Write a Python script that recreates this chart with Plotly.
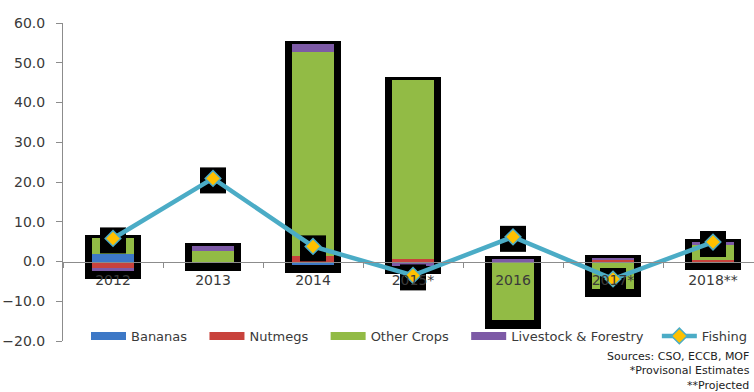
import plotly.graph_objects as go

# Annual contribution to agricultural growth, percentage points
years = ["2012", "2013", "2014", "2015*", "2016", "2017*", "2018**"]
bananas = [1.9, 0.0, -0.8, 0.0, 0.0, 0.0, 0.0]
nutmegs = [-1.7, -0.4, 1.4, 0.6, -0.5, 0.35, 0.4]
other_crops = [3.9, 2.6, 51.2, 45.1, -14.3, -6.9, 3.8]
livestock = [-0.6, 1.3, 2.2, -1.1, 0.65, 0.65, 0.6]
fishing = [5.8, 20.9, 3.8, -3.5, 6.2, -4.4, 4.9]

y_ticks = [-20, -10, 0, 10, 20, 30, 40, 50, 60]
sources = ["Sources: CSO, ECCB, MOF", "*Provisonal Estimates", "**Projected"]

FONT = "DejaVu Sans"
TXT = "#3a3a3a"
AXIS = "#8c8c8c"

W, H = 790, 392
ML, MR, MT, MB = 63, 27, 23, 51
PW, PH = W - ML - MR, H - MT - MB

series = [
    ("Bananas", bananas, "#3d78c6", 3),
    ("Nutmegs", nutmegs, "#c8423c", 3),
    ("Other Crops", other_crops, "#92bb45", 3),
    ("Livestock & Forestry", livestock, "#7d5aa6", 2),
]

# Extent of each stacked column (positive and negative parts)
stacks = list(zip(bananas, nutmegs, other_crops, livestock))
pos_tot = [sum(v for v in s if v > 0) for s in stacks]
neg_tot = [sum(v for v in s if v < 0) for s in stacks]
box_base = [n - 2.1 for n in neg_tot]
box_height = [p - n + 2.85 for p, n in zip(pos_tot, neg_tot)]

fig = go.Figure()

# black frame behind each column
fig.add_trace(go.Bar(
    x=years, y=box_height, base=box_base, width=0.56,
    marker=dict(color="black", line=dict(width=0)),
    showlegend=False, hoverinfo="skip", yaxis="y",
))

# stacked columns
for name, vals, color, _ in series:
    fig.add_trace(go.Bar(
        x=years, y=vals, name=name, width=0.415,
        marker=dict(color=color, line=dict(width=0)),
        showlegend=False, yaxis="y2",
    ))

# legend swatches for the columns
for name, vals, color, gap in series:
    fig.add_trace(go.Scatter(
        x=[None], y=[None], mode="lines", name=name + "\u00a0" * gap,
        line=dict(color=color, width=8), yaxis="y2", showlegend=True,
    ))

# black box behind each fishing point
fig.add_trace(go.Scatter(
    x=years, y=[f - 0.5 for f in fishing], mode="markers",
    marker=dict(symbol="square", size=26, color="black"),
    showlegend=False, hoverinfo="skip", yaxis="y2",
))

# fishing line
fig.add_trace(go.Scatter(
    x=years, y=fishing, name="Fishing", mode="lines+markers",
    line=dict(color="#4bacc6", width=4.5),
    marker=dict(symbol="diamond", size=12, color="#ffc000",
                line=dict(color="#4bacc6", width=1.5)),
    yaxis="y2",
))

# source notes, right-aligned block under the legend
fig.add_annotation(
    text="<br>".join(sources), xref="paper", yref="paper",
    x=(752 - ML) / PW, y=(H - MB - 371) / PH,
    xanchor="right", yanchor="middle", align="right", showarrow=False,
    font=dict(family=FONT, size=11, color="#222222"),
)

fig.update_layout(
    width=W, height=H,
    margin=dict(l=ML, r=MR, t=MT, b=MB, autoexpand=False),
    paper_bgcolor="white", plot_bgcolor="white",
    barmode="relative", bargap=0.0,
    font=dict(family=FONT, size=13, color=TXT),
    xaxis=dict(
        type="category", range=[-0.5, 6.5],
        anchor="free", position=20 / 80,
        showline=True, linecolor=AXIS, linewidth=1,
        ticks="outside", tickson="boundaries", ticklen=5, tickcolor=AXIS,
        ticklabelstandoff=6,
        tickfont=dict(family=FONT, size=14, color=TXT),
        showgrid=False, zeroline=False,
    ),
    yaxis=dict(
        range=[-20, 60], tickvals=y_ticks, tickformat=".1f",
        showline=True, linecolor=AXIS, linewidth=1,
        ticks="outside", ticklen=6, tickcolor=AXIS,
        ticklabelstandoff=8,
        tickfont=dict(family=FONT, size=14, color=TXT),
        showgrid=False, zeroline=False,
    ),
    yaxis2=dict(range=[-20, 60], overlaying="y", visible=False),
    legend=dict(
        orientation="h", xref="paper", yref="paper",
        x=(86 - ML) / PW, y=(H - MB - 336) / PH,
        xanchor="left", yanchor="middle",
        itemwidth=35, bgcolor="rgba(0,0,0,0)",
        font=dict(family=FONT, size=13, color=TXT),
        traceorder="normal",
    ),
)

fig.write_html("out.html")
